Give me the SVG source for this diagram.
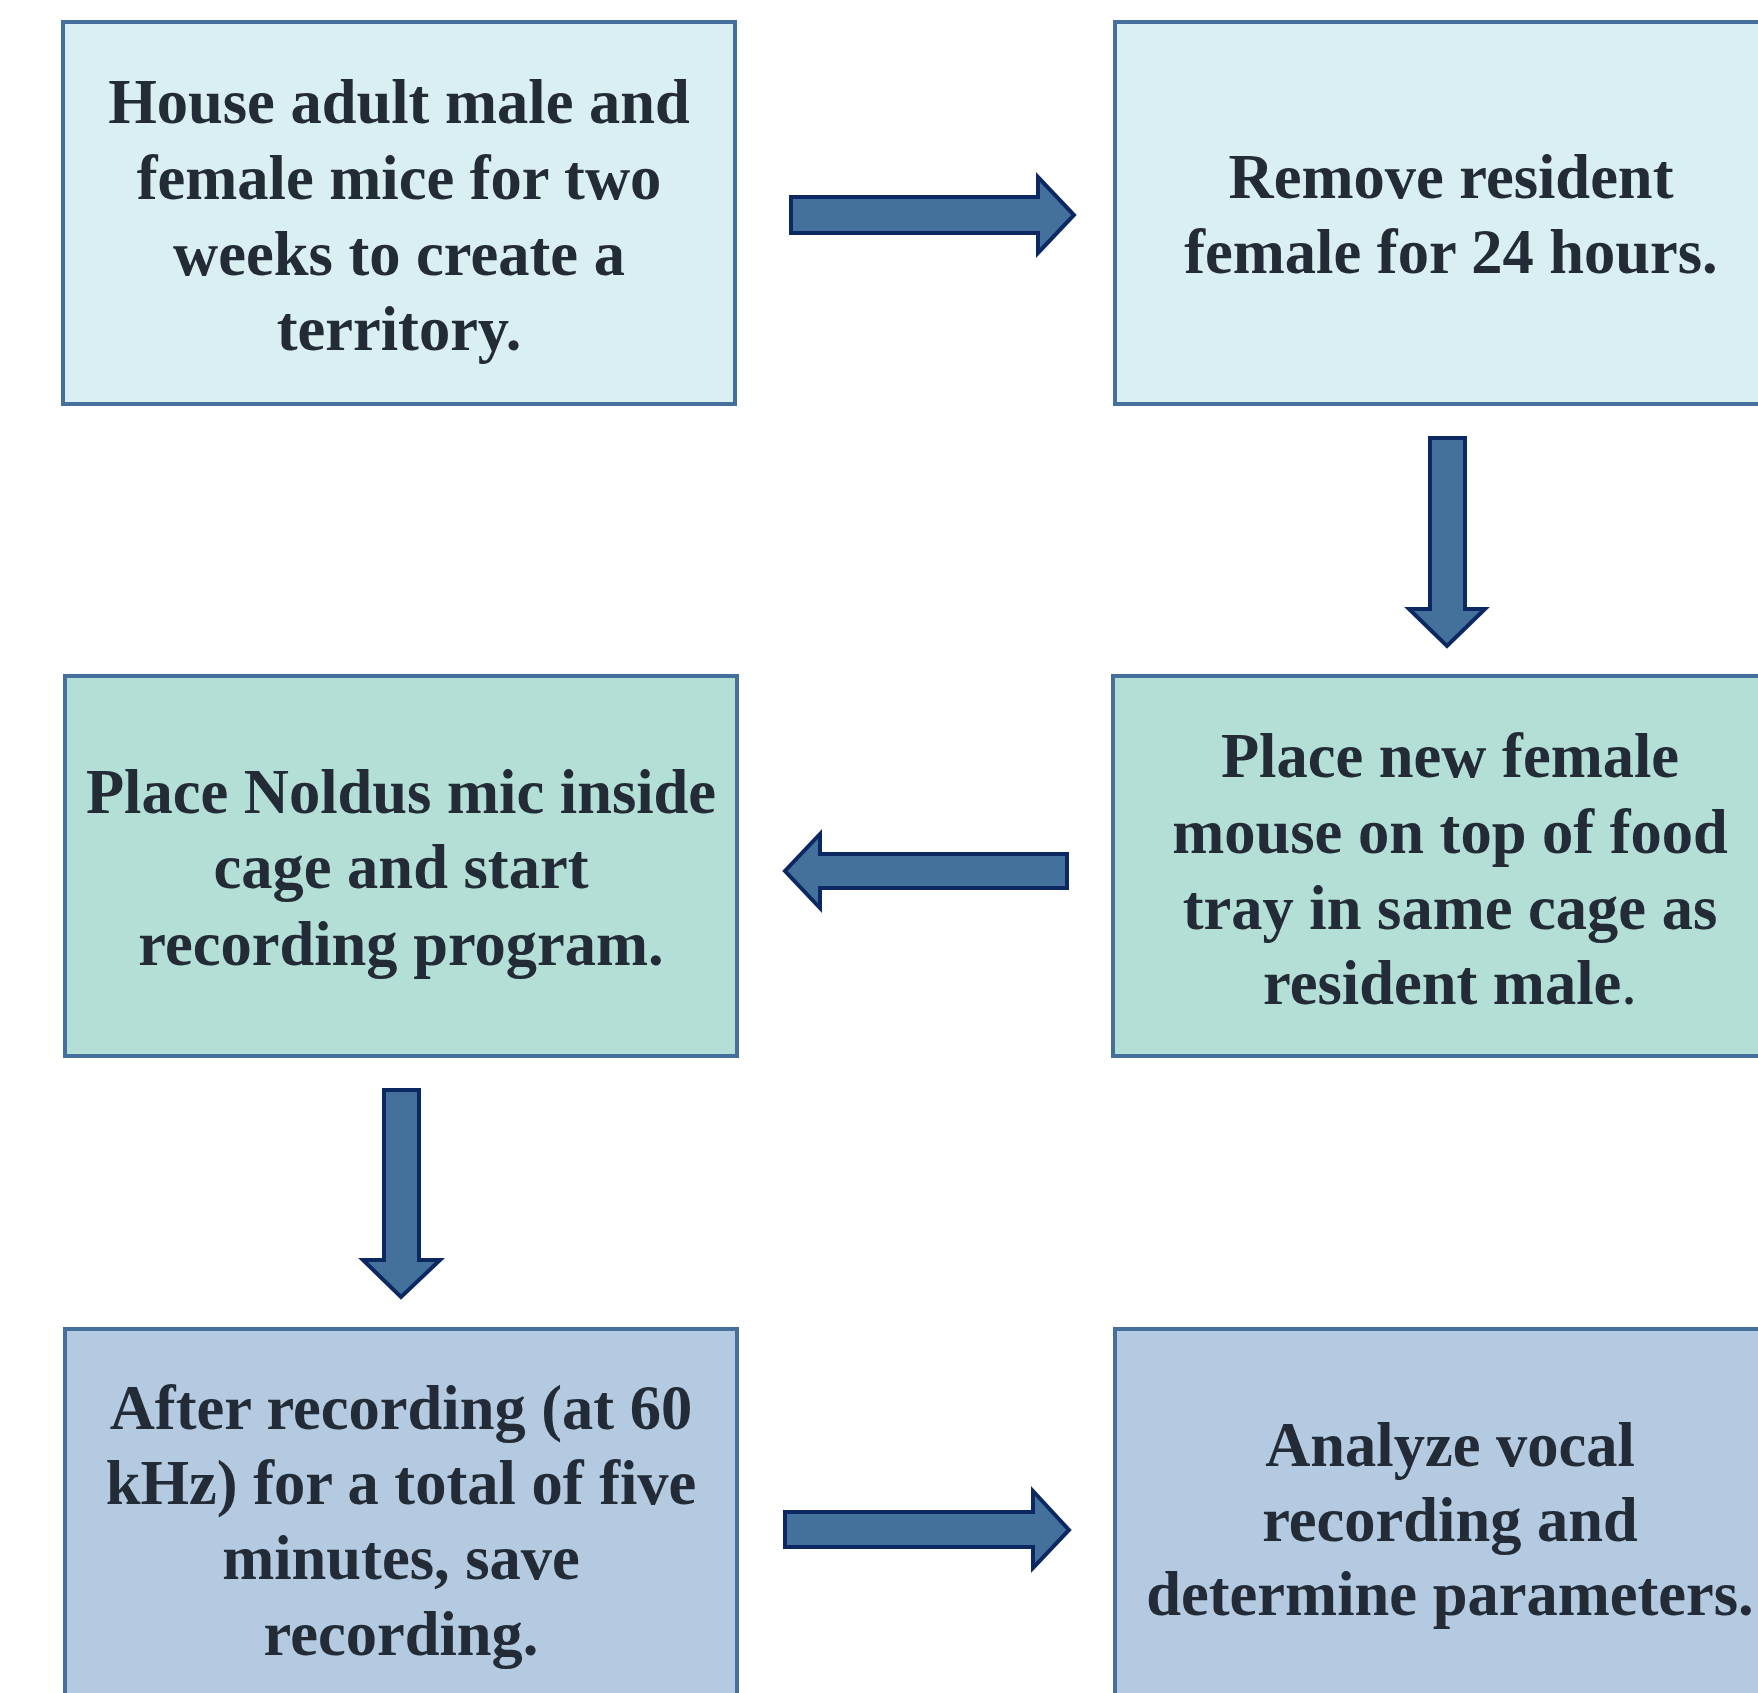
<svg xmlns="http://www.w3.org/2000/svg" width="1758" height="1693" viewBox="0 0 1758 1693">
<style>
.box{stroke:#46709c;stroke-width:4}
.r1{fill:#daeff2}
.r2{fill:#b4dfd6}
.r3{fill:#b3cae0}
.t{font-family:"Liberation Serif","Times New Roman",serif;font-weight:bold;font-size:62.5px;fill:#222b36;text-anchor:middle}
.arr{fill:#44709c;stroke:#0c2862;stroke-width:4;stroke-linejoin:miter}
</style>
<rect width="1758" height="1693" fill="#ffffff"/>
<g id="connectors">
<polygon class="arr" points="791,197 1038,197 1038,177 1074,215 1038,253 1038,233 791,233"/>
<polygon class="arr" points="1430,438 1465,438 1465,609 1485,609 1447,646 1409,609 1430,609"/>
<polygon class="arr" points="1067,854 820,854 820,834 785,871 820,908 820,888 1067,888"/>
<polygon class="arr" points="384,1090 419,1090 419,1260 440,1260 401,1297 363,1260 384,1260"/>
<polygon class="arr" points="785,1512 1033,1512 1033,1491 1069,1530 1033,1568 1033,1547 785,1547"/>
</g>
<g id="node1">
<rect class="box r1" x="63" y="22" width="672" height="382"/>
<text class="t"><tspan x="399" y="123">House adult male and</tspan><tspan x="399" y="199">female mice for two</tspan><tspan x="399" y="275">weeks to create a</tspan><tspan x="399" y="350">territory.</tspan></text>
</g>
<g id="node2">
<rect class="box r1" x="1115" y="22" width="672" height="382"/>
<text class="t"><tspan x="1451" y="198">Remove resident</tspan><tspan x="1451" y="273">female for 24 hours.</tspan></text>
</g>
<g id="node3">
<rect class="box r2" x="1113" y="676" width="674" height="380"/>
<text class="t"><tspan x="1450" y="777">Place new female</tspan><tspan x="1450" y="853">mouse on top of food</tspan><tspan x="1450" y="929">tray in same cage as</tspan><tspan x="1450" y="1004">resident male<tspan font-weight="normal">.</tspan></tspan></text>
</g>
<g id="node4">
<rect class="box r2" x="65" y="676" width="672" height="380"/>
<text class="t"><tspan x="401" y="813">Place Noldus mic inside</tspan><tspan x="401" y="888">cage and start</tspan><tspan x="401" y="965">recording program.</tspan></text>
</g>
<g id="node5">
<rect class="box r3" x="65" y="1329" width="672" height="390"/>
<text class="t"><tspan x="401" y="1429">After recording (at 60</tspan><tspan x="401" y="1504">kHz) for a total of five</tspan><tspan x="401" y="1579">minutes, save</tspan><tspan x="401" y="1655">recording.</tspan></text>
</g>
<g id="node6">
<rect class="box r3" x="1115" y="1329" width="672" height="390"/>
<text class="t"><tspan x="1450" y="1466">Analyze vocal</tspan><tspan x="1450" y="1541">recording and</tspan><tspan x="1450" y="1615">determine parameters.</tspan></text>
</g>
</svg>
